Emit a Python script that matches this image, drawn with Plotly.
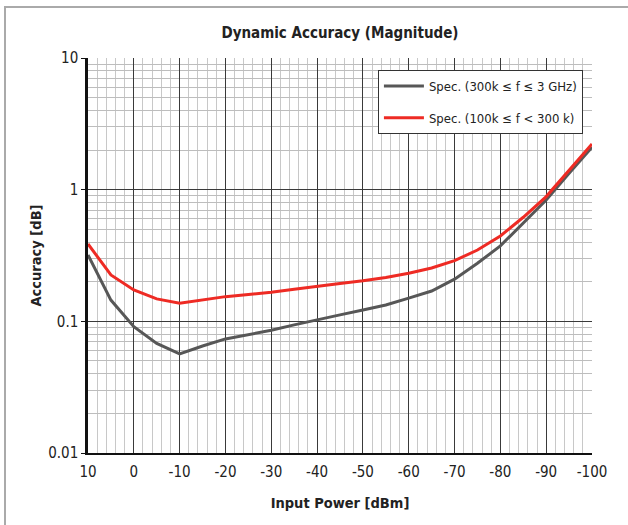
import plotly.graph_objects as go

power_dbm = [10, 5, 0, -5, -10, -15, -20, -25, -30, -35, -40, -45, -50,
             -55, -60, -65, -70, -75, -80, -85, -90, -95, -100]
spec_300k_3g = [0.319, 0.145, 0.091, 0.068, 0.0565, 0.065, 0.0735, 0.0795, 0.0855,
                0.094, 0.103, 0.112, 0.122, 0.133, 0.150, 0.170, 0.209, 0.276,
                0.374, 0.556, 0.835, 1.33, 2.10]
spec_100k_300k = [0.387, 0.225, 0.173, 0.148, 0.137, 0.1455, 0.154, 0.160, 0.166,
                  0.175, 0.185, 0.194, 0.203, 0.215, 0.232, 0.254, 0.289, 0.348,
                  0.445, 0.617, 0.886, 1.41, 2.22]
x_tick_vals = [10, 0, -10, -20, -30, -40, -50, -60, -70, -80, -90, -100]
y_tick_vals = [0.01, 0.1, 1, 10]
y_tick_text = ["0.01", "0.1", "1", "10"]
y_minor_vals = [m * d for d in (0.01, 0.1, 1) for m in range(2, 10)]
x_minor_vals = [v for v in range(10, -101, -2) if v % 10 != 0]

FONT = "DejaVu Sans Condensed, Liberation Sans Narrow, sans-serif"

fig = go.Figure()
fig.add_trace(go.Scatter(x=power_dbm, y=spec_300k_3g, mode="lines",
                         name="Spec. (300k \u2264 f \u2264 3 GHz)", legendgroup="a",
                         line=dict(color="#575757", width=3)))
fig.add_trace(go.Scatter(x=power_dbm, y=spec_100k_300k, mode="lines",
                         name="Spec. (100k \u2264 f < 300 k)", legendgroup="b",
                         line=dict(color="#ee2b24", width=3)))

fig.update_layout(
    width=628, height=525,
    margin=dict(l=88, r=36, t=58, b=72),
    paper_bgcolor="white", plot_bgcolor="white",
    font=dict(family=FONT, size=15, color="#222"),
    title=dict(text="<b>Dynamic Accuracy (Magnitude)</b>", x=0.5, xref="paper",
               xanchor="center", y=1 - 33 / 525, yanchor="middle",
               font=dict(family=FONT, size=15, color="#222")),
    showlegend=True,
    legend=dict(x=0.982, y=0.9696, xanchor="right", yanchor="top",
                bgcolor="white", bordercolor="#333", borderwidth=1,
                font=dict(family=FONT, size=13, color="#222"),
                tracegroupgap=12, itemwidth=40),
    xaxis=dict(range=[10, -100], tickvals=x_tick_vals,
               ticktext=[str(v) for v in x_tick_vals],
               showgrid=True, gridcolor="#3a3a3a", gridwidth=1.2,
               showline=True, linecolor="#111", linewidth=2,
               ticks="", zeroline=False, ticklabelstandoff=4,
               tickfont=dict(family=FONT, size=15, color="#222"),
               minor=dict(tickvals=x_minor_vals, showgrid=True,
                          gridcolor="#c8c8c8", gridwidth=1, ticks=""),
               title=dict(text="<b>Input Power [dBm]</b>", standoff=18,
                          font=dict(family=FONT, size=14.5, color="#222"))),
    yaxis=dict(type="log", range=[-2, 1], tickvals=y_tick_vals, ticktext=y_tick_text,
               showgrid=True, gridcolor="#3a3a3a", gridwidth=1.2,
               showline=True, linecolor="#111", linewidth=2.5,
               ticks="outside", ticklen=4, tickcolor="#111", zeroline=False,
               tickfont=dict(family=FONT, size=15, color="#222"),
               minor=dict(tickvals=y_minor_vals, showgrid=True,
                          gridcolor="#bdbdbd", gridwidth=1, ticks=""),
               title=dict(text="<b>Accuracy [dB]</b>", standoff=4,
                          font=dict(family=FONT, size=14.5, color="#222"))),
)

# light grey frame (left and top edges visible in the reference)
fig.add_shape(type="rect", xref="paper", yref="paper",
              x0=(5 - 88) / 504, x1=(640 - 88) / 504,
              y0=(453 - 540) / 395, y1=(453 - 7) / 395,
              line=dict(color="#aaaaaa", width=2), fillcolor="rgba(0,0,0,0)",
              layer="below")

fig.write_html("out.html", config={"displayModeBar": False},
               post_script="document.body.style.margin='0px';")
